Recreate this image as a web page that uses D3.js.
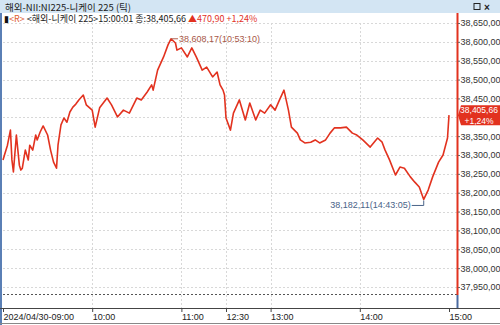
<!DOCTYPE html>
<html>
<head>
<meta charset="utf-8">
<script src="https://cdn.jsdelivr.net/npm/d3@7"></script>
<style>
  body { margin: 0; background: #fff; }
  svg { display: block; }
</style>
</head>
<body>
<svg width="500" height="325"></svg>
<script>
// tick data (clock time, price)
var times = ['09:00','09:01','09:03','09:05','09:06','09:07','09:09','09:11','09:12','09:13','09:15','09:17','09:18','09:20','09:22','09:23','09:25','09:27','09:30','09:32','09:34','09:36','09:37','09:39','09:41','09:43','09:45','09:47','09:49','09:51','09:54','09:56','10:00','10:02','10:05','10:10','10:13','10:17','10:21','10:25','10:30','10:33','10:37','10:40','10:41','10:44','10:48','10:51','10:53','10:56','10:57','11:00','11:04','11:07','11:10','11:14','11:17','11:21','11:24','11:26','11:28','11:29','12:30','12:33','12:35','12:39','12:43','12:46','12:50','12:53','12:56','13:00','13:03','13:06','13:09','13:12','13:14','13:18','13:20','13:23','13:27','13:30','13:33','13:37','13:40','13:43','13:47','13:51','13:55','13:58','14:02','14:07','14:12','14:15','14:17','14:20','14:24','14:27','14:30','14:34','14:37','14:40','14:43','14:46','14:49','14:53','14:56','14:59','15:00'];
var prices = [38287,38300,38326,38366,38287,38255,38353,38273,38260,38265,38313,38287,38326,38313,38353,38340,38361,38377,38353,38313,38281,38265,38326,38380,38398,38387,38414,38427,38435,38446,38459,38433,38419,38374,38425,38451,38433,38401,38419,38411,38451,38446,38467,38486,38472,38525,38560,38592,38608.17,38597,38578,38584,38560,38584,38560,38525,38533,38507,38520,38486,38472,38459,38398,38366,38411,38446,38393,38438,38393,38419,38411,38433,38419,38446,38472,38419,38374,38358,38340,38332,38334,38340,38332,38340,38358,38372,38372,38374,38358,38353,38340,38321,38345,38334,38313,38287,38247,38268,38265,38242,38228,38215,38182.11,38207,38242,38281,38300,38345,38405.66];

var yTicks = [37950,38000,38050,38100,38150,38200,38250,38300,38350,38400,38450,38500,38550,38600,38650];
var xTickTimes = ['09:00','10:00','11:00','12:30','13:00','14:00','15:00'];
var xTickLabels = ['2024/04/30-09:00','10:00','11:00','12:30','13:00','14:00','15:00'];

var hiLabel = '38,608,17(10:53:10)', hiTime = '10:53', hiPrice = 38608.17;
var loLabel = '38,182,11(14:43:05)', loTime = '14:43', loPrice = 38182.11;
var lastPrice = 38405.66, lastPct = '+1,24%';

var svg = d3.select('svg');
var W = 500, H = 325;
var red = '#e2321f';
var font = 'Liberation Sans, Arial, sans-serif';
var kfont = '"Noto Sans CJK KR", "Noto Sans", sans-serif';

// trading minutes from 09:00, lunch 11:30-12:30 collapsed
function tradeMin(t) {
	var p = t.split(':'), m = (+p[0] - 9) * 60 + (+p[1]);
	return m >= 210 ? m - 60 : m;
}
// korean style number: comma thousands and comma decimals
function kfmt(v) {
	return d3.format(',.2f')(v).replace('.', ',');
}

var x = d3.scaleLinear().domain([0, 300]).range([3, 449]);
var y = d3.scaleLinear().domain([37950, 38650]).range([287, 23]);
var axisX = 457, bottomY = 308;
var ty = y(lastPrice);

// title bar
svg.append('rect').attr('x', 0).attr('y', 0).attr('width', W).attr('height', 13).attr('fill', '#d3e5f3');
svg.append('text').attr('x', 5).attr('y', 10.5).attr('font-family', kfont).attr('font-size', 9.5)
	.attr('fill', '#222').text('해외-NII:NI225-니케이 225 (틱)');
svg.append('rect').attr('x', 474).attr('y', 3.5).attr('width', 6).attr('height', 6)
	.attr('fill', 'none').attr('stroke', '#222').attr('stroke-width', 1);
svg.append('text').attr('x', 484).attr('y', 10.5).attr('font-family', font).attr('font-size', 10)
	.attr('font-weight', 'bold').attr('fill', '#222').text('×');

// left frame bar
svg.append('rect').attr('x', 0).attr('y', 13).attr('width', 2).attr('height', H - 13).attr('fill', '#5a7fb5');

// grid
var grid = svg.append('g');
grid.selectAll('line.h').data(yTicks).enter().append('line')
	.attr('x1', 3).attr('x2', axisX).attr('y1', d => Math.round(y(d)) + 0.5).attr('y2', d => Math.round(y(d)) + 0.5)
	.attr('stroke', '#d8d8d8').attr('stroke-dasharray', '2,2');
grid.selectAll('line.v').data(xTickTimes.slice(1, -1)).enter().append('line')
	.attr('x1', d => Math.round(x(tradeMin(d))) + 0.5).attr('x2', d => Math.round(x(tradeMin(d))) + 0.5)
	.attr('y1', 23).attr('y2', bottomY)
	.attr('stroke', '#d8d8d8').attr('stroke-dasharray', '2,2');
svg.append('line').attr('x1', 3).attr('x2', axisX).attr('y1', 294.5).attr('y2', 294.5)
	.attr('stroke', '#555').attr('stroke-dasharray', '2,2');

// info line
var info = svg.append('text').attr('x', 4).attr('y', 22).attr('font-family', kfont).attr('font-size', 9);
info.append('tspan').attr('fill', '#111').text('▮');
info.append('tspan').attr('fill', '#e06030').text('<R> ');
info.append('tspan').attr('fill', '#222').text('<해외-니케이 225>15:00:01 종:38,405,66 ');
info.append('tspan').attr('fill', red).text('▲470,90 +1,24%');

// price line
var pts = times.map((t, i) => [tradeMin(t), prices[i]]);
svg.append('path').datum(pts)
	.attr('d', d3.line().x(d => x(d[0])).y(d => y(d[1])))
	.attr('fill', 'none').attr('stroke', red).attr('stroke-width', 1.6).attr('stroke-linejoin', 'round');

// high / low annotations
var hx = x(tradeMin(hiTime)), hy = y(hiPrice);
svg.append('line').attr('x1', hx).attr('x2', hx + 7).attr('y1', hy).attr('y2', hy).attr('stroke', '#b06050');
svg.append('text').attr('x', hx + 8).attr('y', hy + 3).attr('font-family', font).attr('font-size', 9)
	.attr('fill', '#a85848').text(hiLabel);
var lx = x(tradeMin(loTime)), ly = y(loPrice);
svg.append('path').attr('d', `M${lx - 12},${ly + 6}H${lx}V${ly + 1}`).attr('fill', 'none').attr('stroke', '#4a6488');
svg.append('text').attr('x', lx - 13).attr('y', ly + 9).attr('text-anchor', 'end').attr('font-family', font)
	.attr('font-size', 9).attr('fill', '#4a6488').text(loLabel);

// y axis (labels under the last-price tag are hidden, as in the original)
svg.append('line').attr('x1', axisX + 0.5).attr('x2', axisX + 0.5).attr('y1', 13).attr('y2', 295).attr('stroke', red).attr('stroke-width', 2);
svg.append('line').attr('x1', axisX + 0.5).attr('x2', axisX + 0.5).attr('y1', 295).attr('y2', bottomY).attr('stroke', '#4a6aa0').attr('stroke-width', 2);
var ya = svg.append('g').attr('transform', `translate(${axisX + 1},0)`)
	.call(d3.axisRight(y).tickValues(yTicks.filter(d => Math.abs(y(d) - ty) > 12)).tickSize(2).tickFormat(kfmt));
ya.select('.domain').remove();
ya.selectAll('line').attr('stroke', '#666');
ya.selectAll('text').attr('x', 2.5).attr('font-family', font).attr('font-size', 9).attr('fill', '#333');

// last price tag
svg.append('path').attr('d', `M${axisX + 1},${ty}L${axisX + 4},${ty - 10}H${W}V${ty + 10}H${axisX + 4}Z`).attr('fill', red);
svg.append('text').attr('x', 479).attr('y', ty - 2).attr('text-anchor', 'middle').attr('font-family', font)
	.attr('font-size', 8.5).attr('fill', '#fff').text(kfmt(lastPrice));
svg.append('text').attr('x', 479).attr('y', ty + 8.5).attr('text-anchor', 'middle').attr('font-family', font)
	.attr('font-size', 8.5).attr('fill', '#fff').text(lastPct);

// x axis
svg.append('line').attr('x1', 0).attr('x2', W).attr('y1', bottomY + 0.5).attr('y2', bottomY + 0.5).attr('stroke', '#444');
svg.append('line').attr('x1', 0).attr('x2', W).attr('y1', 323.5).attr('y2', 323.5).attr('stroke', '#888');
var xa = svg.append('g').attr('transform', `translate(0,${bottomY})`)
	.call(d3.axisBottom(x).tickValues(xTickTimes.map(tradeMin)).tickSize(4)
		.tickFormat((d, i) => xTickLabels[i]));
xa.select('.domain').remove();
xa.selectAll('line').attr('stroke', '#444');
xa.selectAll('text').attr('text-anchor', 'start').attr('x', 0).attr('dy', 0).attr('y', 12)
	.attr('font-family', font).attr('font-size', 9).attr('fill', '#222');
</script>
</body>
</html>
